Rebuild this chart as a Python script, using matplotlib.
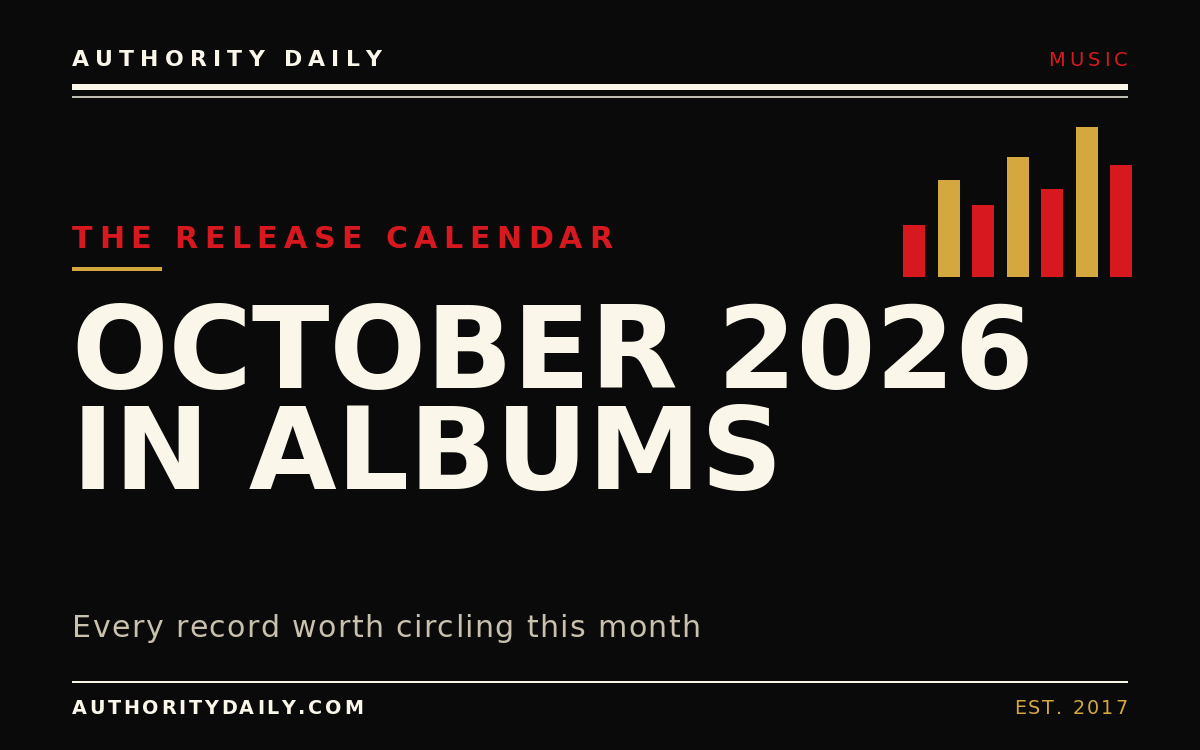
import matplotlib
matplotlib.use("Agg")
import matplotlib.pyplot as plt
from matplotlib.font_manager import FontProperties, findfont
from matplotlib.ft2font import FT2Font

BG = "#0a0a0a"
CREAM = "#faf6ea"
RED = "#d7191f"
GOLD = "#d4a83f"
MUTED = "#c9c1ae"

# header / footer copy
BRAND = "AUTHORITY DAILY"
SECTION = "MUSIC"
KICKER = "THE RELEASE CALENDAR"
TITLE_LINES = ["OCTOBER 2026", "IN ALBUMS"]
SUBTITLE = "Every record worth circling this month"
SITE = "AUTHORITYDAILY.COM"
EST = "EST. 2017"

# decorative equaliser bars (relative heights)
bar_values = [35, 65, 48, 80, 59, 100, 75]
bar_colors = [RED, GOLD, RED, GOLD, RED, GOLD, RED]

W, H = 1200, 750
DPI = 100


def px2pt(px):
    return px * 72.0 / DPI


def advance(ch, weight, size_px):
    prop = FontProperties(family="DejaVu Sans", weight=weight)
    font = FT2Font(findfont(prop), hinting_factor=1)
    font.set_size(size_px, 72)
    g = font.load_char(ord(ch))
    return g.linearHoriAdvance / 65536.0


def tracked(ax, x, y, s, size_px, color, weight="normal", track=0.0, ha="left"):
    advs = [advance(c, weight, size_px) for c in s]
    total = sum(advs) + track * (len(s) - 1)
    if ha == "right":
        x = x - total
    for c, a in zip(s, advs):
        if c != " ":
            ax.text(x, y, c, fontsize=px2pt(size_px), color=color,
                    fontweight=weight, family="DejaVu Sans",
                    ha="left", va="baseline")
        x += a + track


fig = plt.figure(figsize=(W / DPI, H / DPI), dpi=DPI, facecolor=BG)
ax = fig.add_axes([0, 0, 1, 1])
ax.set_xlim(0, W)
ax.set_ylim(H, 0)
ax.set_facecolor(BG)
ax.axis("off")

# masthead
tracked(ax, 72, 66, BRAND, 22, CREAM, weight="bold", track=6.1)
tracked(ax, 1128, 66, SECTION, 19.5, RED, track=3.8, ha="right")
ax.plot([72, 1128], [87, 87], color=CREAM, lw=px2pt(6), solid_capstyle="butt")
ax.plot([72, 1128], [96.5, 96.5], color=CREAM, lw=px2pt(1.5), solid_capstyle="butt")

# kicker
tracked(ax, 72, 247.5, KICKER, 30, RED, weight="bold", track=6.5)
ax.plot([72, 162], [269, 269], color=GOLD, lw=px2pt(4), solid_capstyle="butt")

# headline
for line, base in zip(TITLE_LINES, [388.5, 489]):
    ax.text(72, base, line, fontsize=px2pt(113.6), color=CREAM,
            fontweight="bold", family="DejaVu Sans", ha="left", va="baseline")

tracked(ax, 72, 637, SUBTITLE, 30, MUTED, track=1.4)

# footer
ax.plot([72, 1128], [682, 682], color=CREAM, lw=px2pt(2), solid_capstyle="butt")
tracked(ax, 72, 714, SITE, 19.2, CREAM, weight="bold", track=2.8)
tracked(ax, 1127.5, 714, EST, 19.2, GOLD, track=2.2, ha="right")

# bars
bx0, bx1 = 900, 1135
by_top, by_bot = 127.3, 277.3
bax = fig.add_axes([bx0 / W, 1 - by_bot / H, (bx1 - bx0) / W, (by_bot - by_top) / H])
bax.set_facecolor("none")
bax.axis("off")
xs = list(range(len(bar_values)))
bax.bar(xs, bar_values, width=0.647, color=bar_colors)
bax.set_xlim(-0.412, -0.412 + (bx1 - bx0) / 34.5)
bax.set_ylim(0, 100)

fig.savefig("out.png", dpi=DPI, facecolor=BG)
